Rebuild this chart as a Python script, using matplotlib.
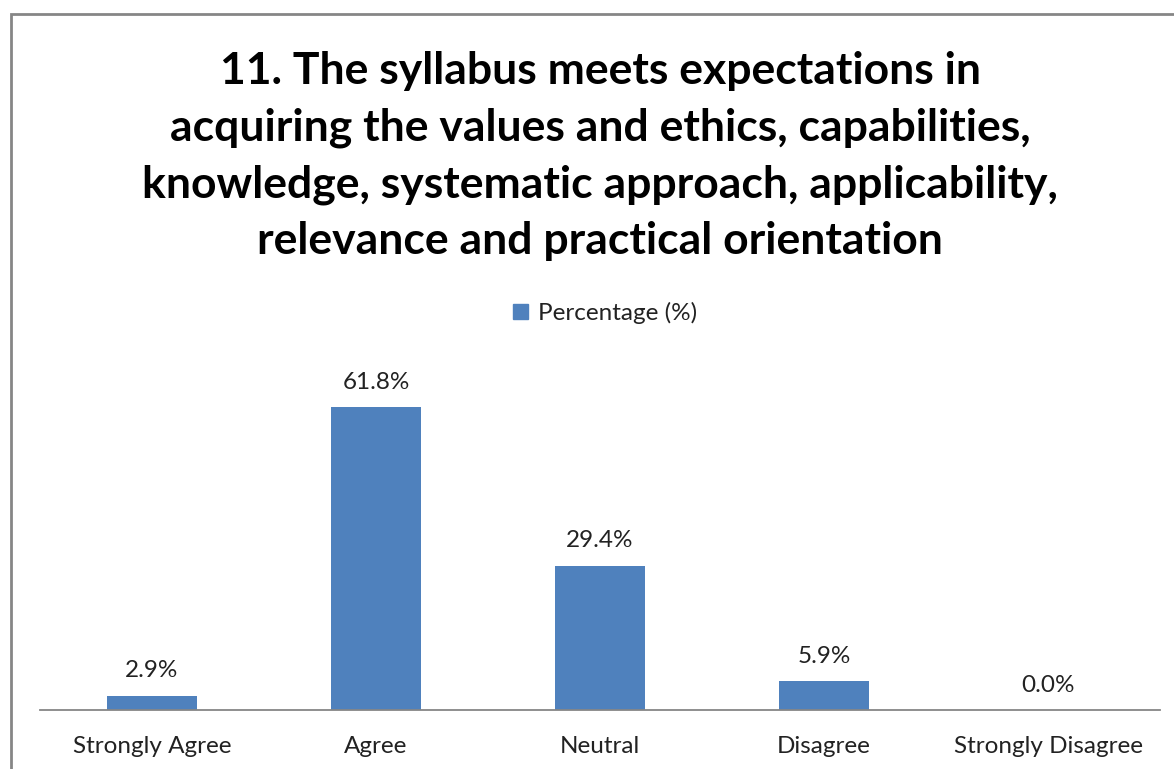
import numpy as np
import matplotlib as mpl
mpl.use('Agg')
import matplotlib.pyplot as plt
import matplotlib.patches as mpatches

mpl.rc('font', family=['Lato', 'DejaVu Sans'])

categories = ['Strongly Agree', 'Agree', 'Neutral', 'Disagree', 'Strongly Disagree']
percentages = [2.9, 61.8, 29.4, 5.9, 0.0]
series_name = 'Percentage (%)'
title = ('11. The syllabus meets expectations in\n'
         'acquiring the values and ethics, capabilities,\n'
         'knowledge, systematic approach, applicability,\n'
         'relevance and practical orientation')

W, H = 1174, 769
fig = plt.figure(figsize=(W / 100, H / 100), dpi=100)

# chart border (only top/left visible in the crop)
fig.patches.append(mpatches.Rectangle((11 / W, -0.1), 1.2, 1 - 14 / H + 0.1,
                                      transform=fig.transFigure, fill=False,
                                      edgecolor='#868686', linewidth=2))

ax = fig.add_axes([40 / W, 1 - 710 / H, 1120 / W, 0.446])
x = np.arange(len(categories))
bars = ax.bar(x, percentages, width=0.4, color='#4F81BD', label=series_name, zorder=2)
ax.set_xlim(-0.5, len(categories) - 0.5)
ax.set_ylim(0, 70)

for xi, v in zip(x, percentages):
    ax.annotate('{0:.1f}%'.format(v), (xi, v), xytext=(0, 18), textcoords='offset points',
                ha='center', va='center', fontsize=17.5, color='#222222')

ax.set_xticks(x)
ax.set_xticklabels(categories, fontsize=17.5, color='#222222')
ax.tick_params(axis='x', length=0, pad=19)
ax.set_yticks([])
for s in ['top', 'left', 'right']:
    ax.spines[s].set_visible(False)
ax.spines['bottom'].set_color('#868686')
ax.spines['bottom'].set_linewidth(1.3)

fig.text(600 / W, 1 - 156 / H, title, ha='center', va='center', fontsize=32,
         fontweight='bold', linespacing=1.5, color='black')

leg = fig.legend(handles=[mpatches.Patch(color='#4F81BD', label=series_name)],
                 loc='center', bbox_to_anchor=(605 / W, 1 - 313 / H), frameon=False,
                 fontsize=17.5, handlelength=0.6, handleheight=0.6, handletextpad=0.4)
for t in leg.get_texts():
    t.set_color('#222222')

fig.savefig('out.png', dpi=100)
